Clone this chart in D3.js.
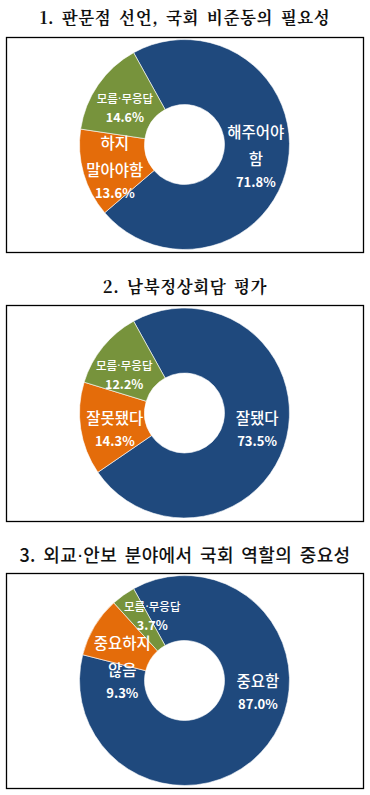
<!DOCTYPE html>
<html>
<head>
<meta charset="utf-8">
<script src="https://cdn.jsdelivr.net/npm/d3@7"></script>
<style>
	body { margin: 0; background: #ffffff; }
	svg { display: block; }
</style>
</head>
<body>
<script>
// chart data
var titles = [
	"1. 판문점 선언, 국회 비준동의 필요성",
	"2. 남북정상회담 평가",
	"3. 외교·안보 분야에서 국회 역할의 중요성"
];
var categories1 = [["해주어야", "함"], ["하지", "말아야함"], ["모름·무응답"]];
var values1 = [71.8, 13.6, 14.6];
var categories2 = [["잘됐다"], ["잘못됐다"], ["모름·무응답"]];
var values2 = [73.5, 14.3, 12.2];
var categories3 = [["중요함"], ["중요하지", "않음"], ["모름·무응답"]];
var values3 = [87.0, 9.3, 3.7];

var COLOURS = ["#1f497d", "#e46c0a", "#77933c"];

var width = 370, height = 795;

var svg = d3.select("body").append("svg")
	.attr("width", width)
	.attr("height", height);

svg.append("rect").attr("width", width).attr("height", height).attr("fill", "#fff");

// box layout for each chart
var boxes = [
	{ top: 37, bottom: 252, titleY: 24, serif: true },
	{ top: 305, bottom: 521, titleY: 293, serif: true },
	{ top: 573, bottom: 788, titleY: 562, serif: false }
];

// small label nudges (Excel labels were moved by hand)
var nudges = [
	[[0, 0], [0, 4], [0, 5]],
	[[2, 0], [2, 6], [-4, 8]],
	[[16, -32], [0, 25], [10, -5]]
];

var charts = [
	{ cats: categories1, vals: values1 },
	{ cats: categories2, vals: values2 },
	{ cats: categories3, vals: values3 }
];

var pie = d3.pie().sort(null).value(function(d) { return d; })
	.startAngle(-29 * Math.PI / 180)
	.endAngle((360 - 29) * Math.PI / 180);

var rOuter = 105, rInner = 40;
var arc = d3.arc().innerRadius(rInner).outerRadius(rOuter);

// the CJK font draws "·" full width, so use a narrow one for it
function add_text(sel, str) {
	var parts = str.split("·");
	parts.forEach(function(p, i) {
		if (i > 0) {
			sel.append("tspan").attr("font-family", "'DejaVu Sans', sans-serif").text("·");
		}
		sel.append("tspan").text(p);
	});
}

charts.forEach(function(c, ci) {
	var b = boxes[ci];
	var cx = 184.5, cy = (b.top + b.bottom) / 2;

	var title = svg.append("text")
		.attr("x", 185)
		.attr("y", b.titleY)
		.attr("text-anchor", "middle")
		.attr("font-family", b.serif ? "'Noto Serif CJK KR', 'Noto Sans CJK KR', serif" : "'Noto Sans CJK KR', sans-serif")
		.attr("font-weight", b.serif ? 700 : 500)
		.attr("font-size", b.serif ? 16.5 : 18)
		.attr("letter-spacing", b.serif ? 0.6 : 0.4)
		.attr("word-spacing", 3)
		.attr("fill", "#111");
	add_text(title, titles[ci]);

	svg.append("rect")
		.attr("x", 6.5)
		.attr("y", b.top + 0.5)
		.attr("width", 357)
		.attr("height", b.bottom - b.top)
		.attr("fill", "none")
		.attr("stroke", "#000")
		.attr("stroke-width", 1.3);

	var g = svg.append("g").attr("transform", "translate(" + cx + "," + cy + ")");
	var arcs = pie(c.vals);

	g.selectAll("path")
		.data(arcs)
		.enter().append("path")
		.attr("d", arc)
		.attr("fill", function(d, i) { return COLOURS[i]; })
		.attr("stroke", "#fff")
		.attr("stroke-width", 0.6);

	arcs.forEach(function(d, i) {
		var p = arc.centroid(d);
		var n = nudges[ci][i];
		var lines = c.cats[i];
		var small = i === 2;
		var nameSize = small ? 11.5 : 15.5;
		var lineGap = small ? 0 : 27;
		var pctGap = small ? 19 : 22;
		var total = (lines.length - 1) * lineGap + pctGap;
		var y0 = p[1] + n[1] - total / 2 + nameSize * 0.35;
		var lab = g.append("g").attr("fill", "#fff")
			.attr("font-family", "'Noto Sans CJK KR', sans-serif")
			.attr("text-anchor", "middle");
		lines.forEach(function(t, li) {
			var tx = lab.append("text")
				.attr("x", p[0] + n[0])
				.attr("y", y0 + li * lineGap)
				.attr("font-size", nameSize)
				.attr("font-weight", 500);
			add_text(tx, t);
		});
		lab.append("text")
			.attr("x", p[0] + n[0])
			.attr("y", y0 + (lines.length - 1) * lineGap + pctGap)
			.attr("font-size", small ? 12.5 : 13)
			.attr("font-weight", 700)
			.text(d3.format(".1f")(c.vals[i]) + "%");
	});
});
</script>
</body>
</html>
